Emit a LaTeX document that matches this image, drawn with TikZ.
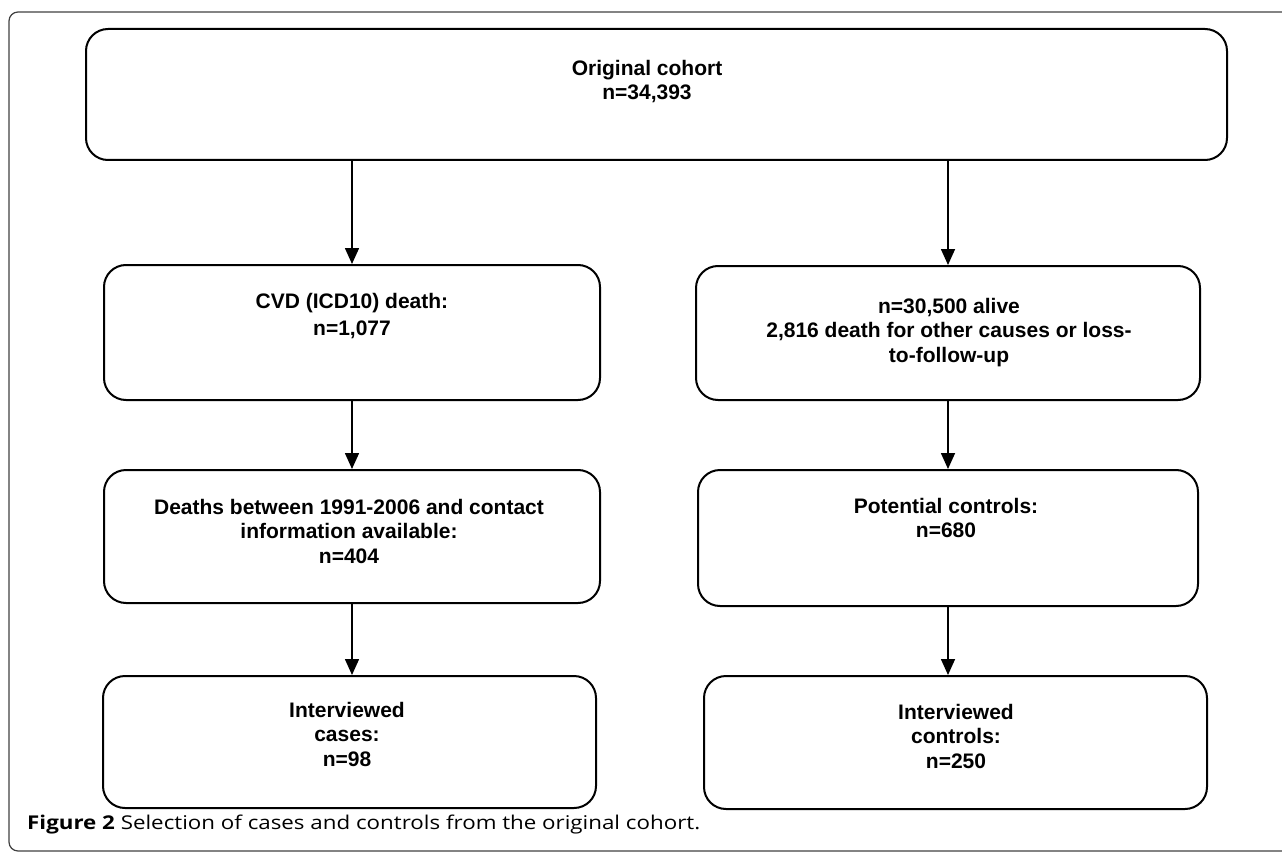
\documentclass[tikz,border=0pt]{standalone}
\usepackage{fontspec}
\setmainfont{Liberation Sans}
\newfontfamily\capfont{Open Sans}
\usetikzlibrary{arrows.meta}
\tikzset{
  box/.style={draw=black, line width=2pt, rounded corners=22pt, inner sep=0pt},
  txt/.style={font=\fontsize{21}{24.5}\selectfont\bfseries, align=center, inner sep=0pt, anchor=north},
  arr/.style={line width=1.6pt, -{Triangle[length=16pt,width=14pt]}},
  frame/.style={draw=black!75, line width=1.2pt, rounded corners=9pt}
}
\begin{document}
\begin{tikzpicture}[x=1pt,y=-1pt]
\useasboundingbox (0,0) rectangle (1282,853);
\draw[frame] (9,12) rectangle (1300,851);
% boxes
\node[box, minimum width=1141pt, minimum height=131pt] (top) at (656.5,94.5) {};
\node[box, minimum width=496pt, minimum height=135pt] (cvd) at (352,332.5) {};
\node[box, minimum width=504pt, minimum height=134pt] (alive) at (948,333) {};
\node[box, minimum width=496pt, minimum height=133pt] (deaths) at (352,536.5) {};
\node[box, minimum width=500pt, minimum height=136pt] (pot) at (948,538) {};
\node[box, minimum width=493pt, minimum height=132pt] (cases) at (349.5,742) {};
\node[box, minimum width=503pt, minimum height=133pt] (ctrls) at (955.5,742.5) {};
% texts
\node[txt] (ttop) at (647,60) {Original cohort\\n=34,393};
\node[txt, font=\fontsize{21}{27}\selectfont\bfseries] (tcvd) at (352,293) {CVD (ICD10) death:\\n=1,077};
\node[txt] (talive) at (949,298) {n=30,500 alive\\2,816 death for other causes or loss-\\to-follow-up};
\node[txt] (tdeaths) at (349,499) {Deaths between 1991-2006 and contact\\information available:\\n=404};
\node[txt] (tpot) at (946,498) {Potential controls:\\n=680};
\node[txt] (tcases) at (347,702) {Interviewed\\cases:\\n=98};
\node[txt] (tctrls) at (956,704) {Interviewed\\controls:\\n=250};
% arrows
\draw[arr] (top.south -| cvd.north) -- (cvd.north);
\draw[arr] (top.south -| alive.north) -- (alive.north);
\draw[arr] (cvd.south) -- (cvd.south |- deaths.north);
\draw[arr] (alive.south) -- (alive.south |- pot.north);
\draw[arr] (deaths.south) -- (deaths.south |- cases.north);
\draw[arr] (pot.south) -- (pot.south |- ctrls.north);
% caption
\node[anchor=base west, inner sep=0pt, font=\capfont\fontsize{19}{22}\selectfont] (cap) at (27,829) {\resizebox{673pt}{\height}{\textbf{Figure 2} Selection of cases and controls from the original cohort.}};
\end{tikzpicture}
\end{document}
